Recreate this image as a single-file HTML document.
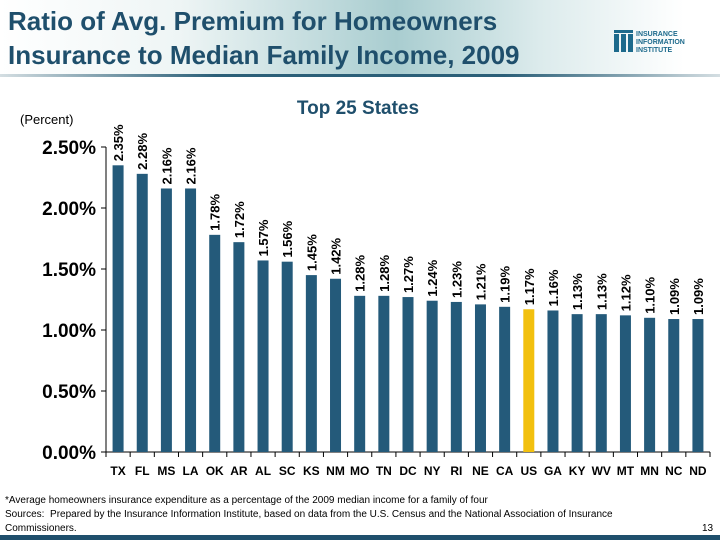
<!DOCTYPE html>
<html><head><meta charset="utf-8"><style>
body{margin:0;width:720px;height:540px;overflow:hidden;background:#fff;font-family:"Liberation Sans",sans-serif;position:relative}
#hdr{position:absolute;left:0;top:0;width:720px;height:76px;background:linear-gradient(90deg,#fff 0%,#eef5f5 25%,#a9cdd0 55%,#dcebec 75%,#fff 95%)}
#hdrline{position:absolute;left:0;top:74px;width:720px;height:3px;background:linear-gradient(90deg,rgba(40,90,110,.2),#2b5f78 30%,#2b5f78 70%,rgba(40,90,110,.2))}
.title{position:absolute;left:8px;color:#1f4f6c;font-weight:bold;font-size:26px;white-space:nowrap}
#logo{position:absolute;left:614px;top:28px}
#foot{position:absolute;left:0;top:535px;width:720px;height:5px;background:#1f4f6c}
.fn{position:absolute;left:5px;font-size:10px;color:#000;white-space:nowrap}
</style></head><body>
<div id="hdr"></div>
<div id="hdrline"></div>
<div class="title" style="top:6px">Ratio of Avg. Premium for Homeowners</div>
<div class="title" style="top:40px">Insurance to Median Family Income, 2009</div>
<div id="logo">
<svg width="100" height="30"><g fill="#1d6a8c"><rect x="0" y="6" width="5" height="18"/><rect x="7" y="6" width="5" height="18"/><rect x="14" y="6" width="5" height="18"/><rect x="0" y="2" width="19" height="3"/></g>
<text x="22" y="8" font-size="7" font-weight="bold" fill="#1d6a8c" font-family="Liberation Sans">INSURANCE</text>
<text x="22" y="16" font-size="7" font-weight="bold" fill="#1d6a8c" font-family="Liberation Sans">INFORMATION</text>
<text x="22" y="24" font-size="7" font-weight="bold" fill="#1d6a8c" font-family="Liberation Sans">INSTITUTE</text></svg></div>
<svg id="chart" width="720" height="540" style="position:absolute;left:0;top:0"></svg>
<div class="fn" style="top:495px">*Average homeowners insurance expenditure as a percentage of the 2009 median income for a family of four</div>
<div class="fn" style="top:509px">Sources:&nbsp; Prepared by the Insurance Information Institute, based on data from the U.S. Census and the National Association of Insurance</div>
<div class="fn" style="top:523px">Commissioners.</div>
<div class="fn" style="top:523px;left:702px">13</div>
<div id="foot"></div>
<script>
const categories=["TX","FL","MS","LA","OK","AR","AL","SC","KS","NM","MO","TN","DC","NY","RI","NE","CA","US","GA","KY","WV","MT","MN","NC","ND"];
const values=[2.35,2.28,2.16,2.16,1.78,1.72,1.57,1.56,1.45,1.42,1.28,1.28,1.27,1.24,1.23,1.21,1.19,1.17,1.16,1.13,1.13,1.12,1.10,1.09,1.09];
const yTicks=[0,0.5,1,1.5,2,2.5];
const NS="http://www.w3.org/2000/svg",svg=document.getElementById('chart');
const x0=106,x1=710,y0=452,yTop=147,ymax=2.5;
const y=v=>y0-(v/ymax)*(y0-yTop);
const bw=(x1-x0)/categories.length;
const xc=i=>x0+bw*(i+0.5);
function mk(t,a){const e=document.createElementNS(NS,t);for(const k in a)e.setAttribute(k,a[k]);svg.appendChild(e);return e;}
let ax=mk('line',{x1:x0,y1:y(ymax),x2:x0,y2:y0,stroke:'#000'});


let bx=mk('line',{x1:x0,y1:y0,x2:x1,y2:y0,stroke:'#000'});


yTicks.forEach(v=>{
 mk('line',{x1:x0-5,y1:y(v),x2:x0,y2:y(v),stroke:'#000'});
 const t=mk('text',{x:x0-10,y:y(v)+7,'text-anchor':'end','font-size':19,'font-weight':'bold'});
 t.textContent=v.toFixed(2)+'%';
 
 
});
for(let i=0;i<=categories.length;i++)mk('line',{x1:x0+bw*i,y1:y0,x2:x0+bw*i,y2:y0+5,stroke:'#000'});
categories.forEach((c,i)=>{
 const r=mk('rect',{x:xc(i)-5.5,y:y(values[i]),width:11,height:y0-y(values[i]),fill:c==='US'?'#f2c00e':'#245a7a'});
 
 
 const t=mk('text',{x:xc(i),y:475,'text-anchor':'middle','font-size':12,'font-weight':'bold'});
 t.textContent=c;
 
 
 const vy=y(values[i])-4;
 const l=mk('text',{x:0,y:0,'font-size':13,'font-weight':'bold',transform:`translate(${xc(i)+5},${vy}) rotate(-90)`});
 l.textContent=values[i].toFixed(2)+'%';
 
 
});
const p=mk('text',{x:20,y:124,'font-size':13});p.textContent='(Percent)';


const s=mk('text',{x:358,y:114,'text-anchor':'middle','font-size':19,'font-weight':'bold',fill:'#1f4f6c'});s.textContent='Top 25 States';


</script>
</body></html>
